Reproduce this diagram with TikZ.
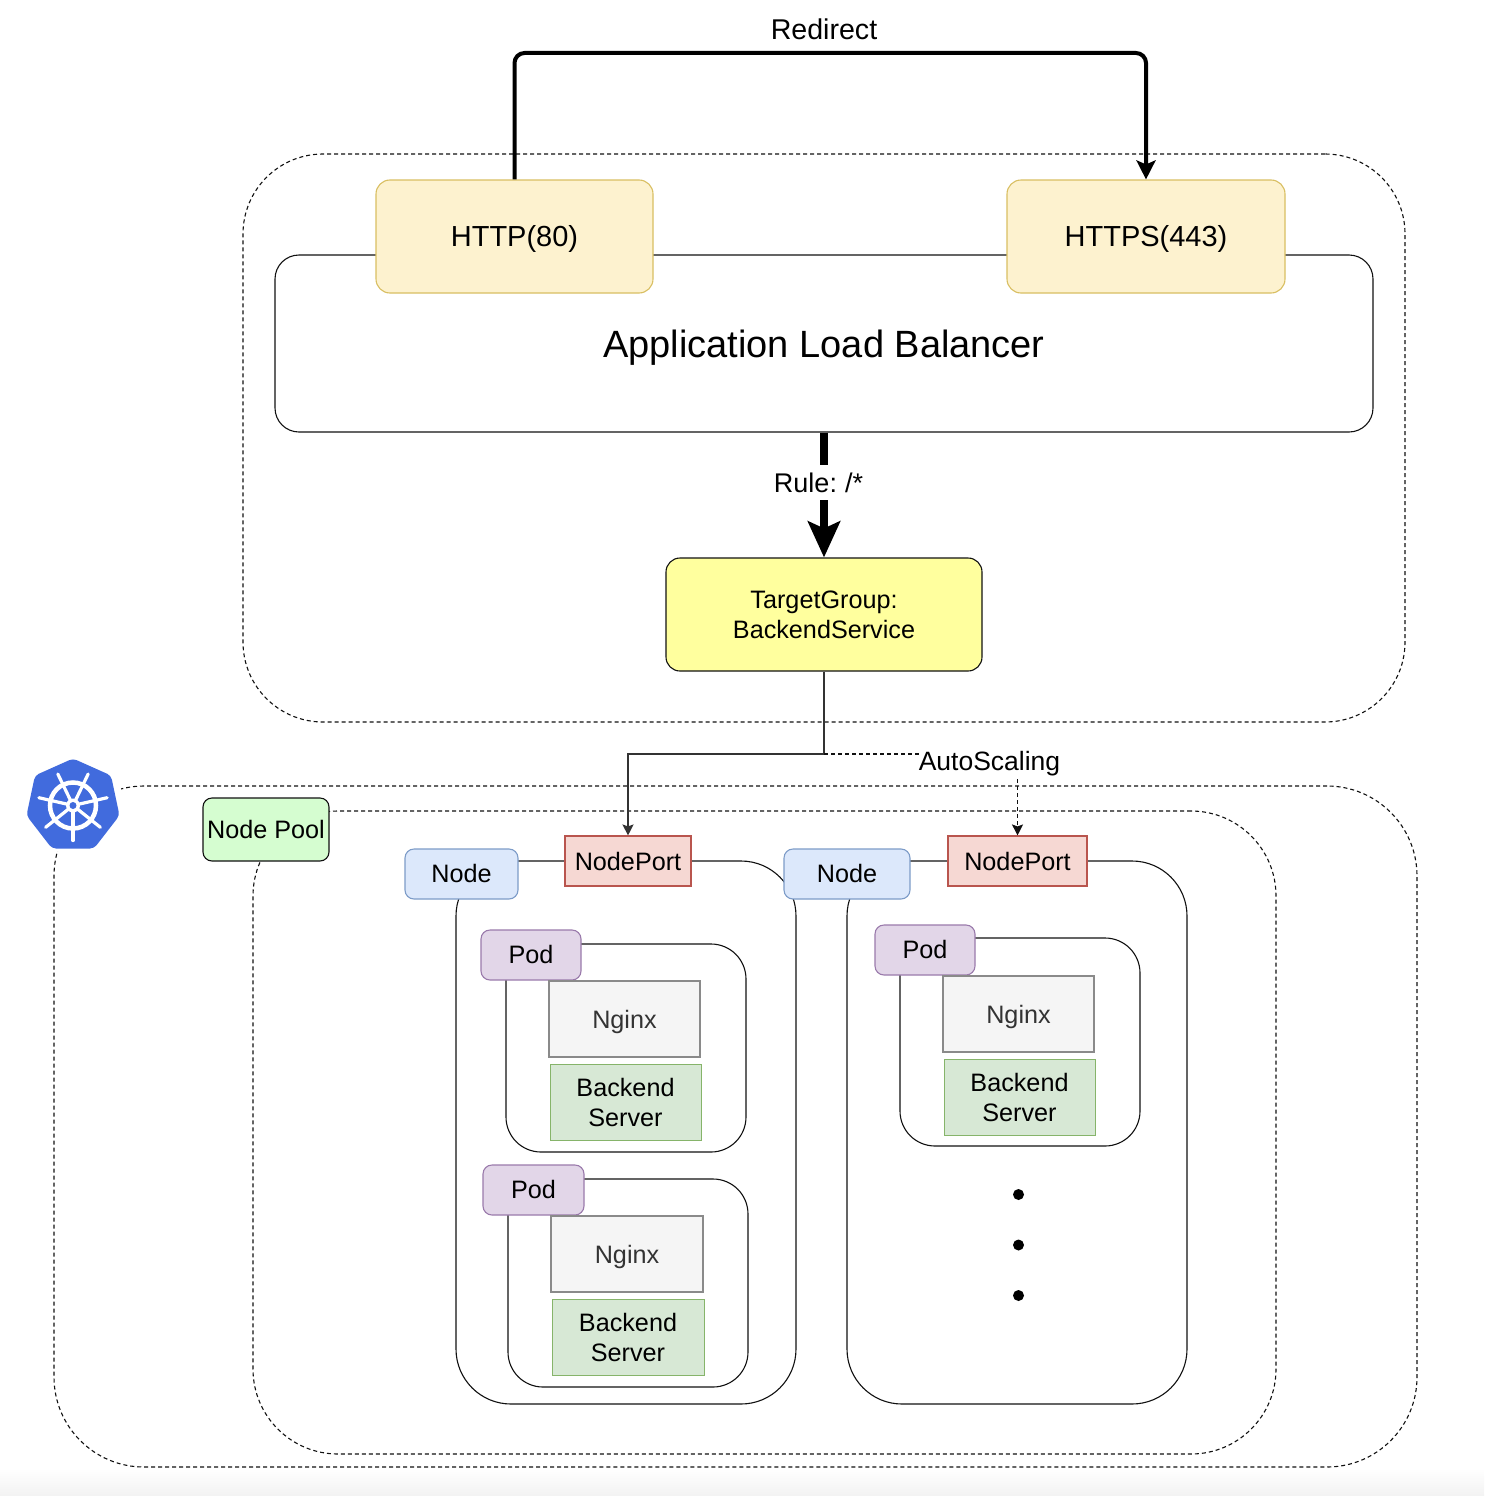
\documentclass[tikz,border=0pt]{standalone}
\usepackage{fontspec}
\setmainfont{Liberation Sans}
\usetikzlibrary{arrows.meta,calc}
\definecolor{lineK}{HTML}{111111}
\tikzset{
  x=1pt,y=-1pt,
  boxbase/.style={draw=lineK,line width=1.1pt,rectangle,inner sep=0pt,align=center,text=black,font=\fontsize{25.2}{30}\selectfont},
  dashbox/.style={boxbase,dash pattern=on 4pt off 3pt,line width=1.1pt},
  contbox/.style={boxbase},
  httpbox/.style={boxbase,draw=httpS,fill=httpF,rounded corners=14pt,font=\fontsize{29}{34}\selectfont,text height=25pt,text depth=6pt},
  tgbox/.style={boxbase,fill=tgF,rounded corners=14pt},
  poolbox/.style={boxbase,fill=poolF,rounded corners=9pt},
  nodebox/.style={boxbase,draw=nodeS,fill=nodeF,rounded corners=9pt,text height=18pt,text depth=2pt},
  portbox/.style={boxbase,draw=portS,fill=portF},
  podbox/.style={boxbase,draw=podS,fill=podF,rounded corners=9pt,text height=18pt,text depth=2pt},
  nginxbox/.style={boxbase,draw=ngS,fill=ngF,text=ngT,text height=24.4pt,text depth=5.3pt},
  backbox/.style={boxbase,draw=beS,fill=beF,line width=0.9pt},
  flow/.style={draw=lineD,line width=1.4pt},
  lbl/.style={inner sep=0pt,font=\fontsize{26.5}{30}\selectfont},
  dotmark/.style={circle,fill=black,draw=none,minimum size=11pt,inner sep=0pt}
}
\definecolor{httpF}{HTML}{FDF2CF}\definecolor{httpS}{HTML}{D9BF62}
\definecolor{tgF}{HTML}{FFFF9E}
\definecolor{poolF}{HTML}{D5FDD0}
\definecolor{nodeF}{HTML}{DCE8FB}\definecolor{nodeS}{HTML}{7D9CC8}
\definecolor{portF}{HTML}{F6D8D3}\definecolor{portS}{HTML}{B9554E}
\definecolor{podF}{HTML}{E2D6E8}\definecolor{podS}{HTML}{9A7AAB}
\definecolor{ngF}{HTML}{F5F5F5}\definecolor{ngS}{HTML}{8A8A8A}\definecolor{ngT}{HTML}{333333}
\definecolor{beF}{HTML}{D7E8D5}\definecolor{beS}{HTML}{86B46A}
\definecolor{lineD}{HTML}{333333}
\definecolor{kube}{HTML}{416BDD}
% \bx{style}{name}{x1}{y1}{x2}{y2}{text}
\newcommand{\bx}[7]{\node[#1,minimum width=#5pt-#3pt,minimum height=#6pt-#4pt] (#2) at ({(#3+#5)/2},{(#4+#6)/2}) {#7};}
\begin{document}
\begin{tikzpicture}
\useasboundingbox (0,0) rectangle (1484,1496);
\fill[white] (0,0) rectangle (1484,1496);
\shade[top color=white,bottom color=black!5,draw=none] (0,1468) rectangle (1484,1496);
% dashed regions
\bx{dashbox,rounded corners=80pt}{albzone}{243}{154}{1405}{722}{}
\bx{dashbox,rounded corners=90pt}{kubezone}{54}{786}{1417}{1467}{}
\bx{dashbox,rounded corners=85pt}{poolzone}{253}{811}{1276}{1454}{}
% ALB
\bx{contbox,rounded corners=24pt,font=\fontsize{38}{44}\selectfont,text height=36pt,text depth=8pt}{alb}{275}{255}{1373}{432}{Application Load Balancer}
\bx{httpbox}{http}{376}{180}{653}{293}{HTTP(80)}
\bx{httpbox}{https}{1007}{180}{1285}{293}{HTTPS(443)}
\bx{tgbox}{tg}{666}{558}{982}{671}{TargetGroup:\\BackendService}
% node containers
\bx{contbox,rounded corners=55pt}{nodeA}{456}{861}{796}{1404}{}
\bx{contbox,rounded corners=55pt}{nodeB}{847}{861}{1187}{1404}{}
% pods
\bx{contbox,rounded corners=35pt}{podA}{506}{944}{746}{1152}{}
\bx{contbox,rounded corners=35pt}{podB}{508}{1179}{748}{1387}{}
\bx{contbox,rounded corners=35pt}{podC}{900}{938}{1140}{1146}{}
\bx{podbox}{podLA}{481}{930}{581}{980}{Pod}
\bx{podbox}{podLB}{483}{1165}{584}{1215}{Pod}
\bx{podbox}{podLC}{875}{925}{975}{975}{Pod}
\bx{nginxbox}{ngA}{549}{981}{700}{1057}{Nginx}
\bx{nginxbox}{ngB}{551}{1216}{703}{1292}{Nginx}
\bx{nginxbox}{ngC}{943}{976}{1094}{1052}{Nginx}
\bx{backbox}{beA}{550}{1064.5}{701}{1140.5}{Backend\\Server}
\bx{backbox}{beB}{552}{1299.5}{704}{1375.5}{Backend\\Server}
\bx{backbox}{beC}{944}{1059.5}{1095}{1135}{Backend\\Server}
\bx{nodebox}{nlA}{405}{849}{518}{899}{Node}
\bx{nodebox}{nlB}{784}{849}{910}{899}{Node}
\bx{portbox}{npA}{565}{836}{691}{886}{NodePort}
\bx{portbox}{npB}{948}{836}{1087}{886}{NodePort}
\bx{poolbox}{poolL}{203}{798}{329}{861}{Node Pool}
% dots
\node[dotmark] (dotA) at (1018.5,1194.5) {};
\node[dotmark] (dotB) at (1018.5,1245) {};
\node[dotmark] (dotC) at (1018.5,1295.5) {};
% labels
\node[lbl,font=\fontsize{28.6}{30}\selectfont] (redir) at (824,29) {Redirect};
\node[lbl] (auto) at (989.5,764) {AutoScaling};
% connectors
\coordinate (rtop) at (830,53);
\draw[line width=4pt,draw=black,rounded corners=10pt,-{Stealth[length=19pt,width=19pt,inset=4pt]}]
  (http.north) |- (rtop) -| (https.north);
\draw[line width=8pt,draw=black,-{Stealth[length=36pt,width=32pt,inset=7pt]}] (alb.south) -- (tg.north)
  node[pos=0.4,fill=white,inner sep=0pt,minimum width=96pt,minimum height=35pt,font=\fontsize{27}{30}\selectfont,xshift=-5.5pt] (rule) {Rule:\hspace{-2pt} /*};
\coordinate (split) at (824,754);
\draw[flow,-{Stealth[length=11pt,width=11pt,inset=2pt]}] (tg.south) -- (split) -| (npA.north);
\draw[draw=lineK,line width=1.1pt,dash pattern=on 4pt off 3pt] (split) -- (auto.west |- split);
\draw[draw=lineK,line width=1.1pt,dash pattern=on 4pt off 3pt,-{Stealth[length=11pt,width=11pt,inset=2pt,sep=0pt]}] ($(npB.north)+(0,-56)$) -- (npB.north);
% Kubernetes icon
\fill[white] (26,758) rectangle (121,851);
\begin{scope}[shift={(73,805.5)}]
\fill[kube,rounded corners=4pt] (0,-47) -- (38,-30) -- (46.5,10) -- (21,43) -- (-21,43) -- (-46.5,10) -- (-38,-30) -- cycle;
\draw[white,line width=4.5pt] (0,0) circle (23pt);
\foreach \a in {270,321.43,372.86,424.29,475.71,527.14,578.57}{
  \draw[white,line width=3.2pt,line cap=round] (\a:5pt) -- ++(\a:30pt);
}
\fill[white] (0,0) circle (7pt);
\fill[kube] (0,0) circle (3.5pt);
\end{scope}
\end{tikzpicture}
\end{document}
